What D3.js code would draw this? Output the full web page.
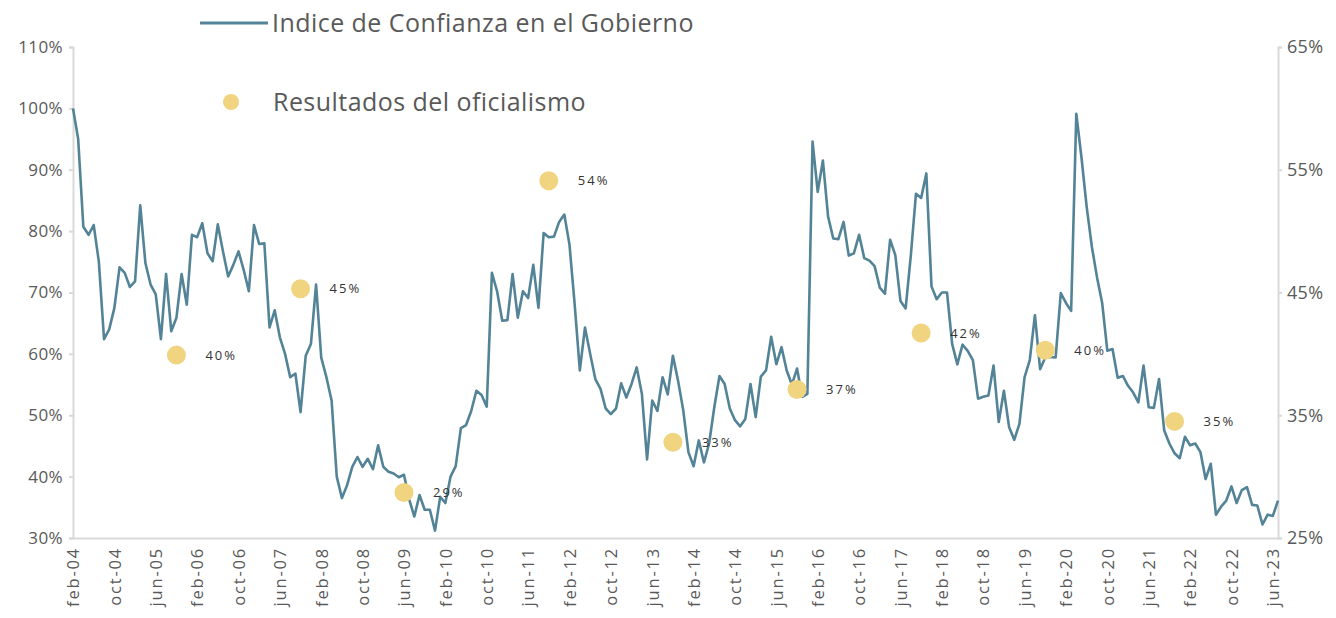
<!DOCTYPE html>
<html>
<head>
<meta charset="utf-8">
<script src="https://cdn.jsdelivr.net/npm/d3@7"></script>
<style>
  html, body { margin: 0; padding: 0; background: #fff; }
  #chart { width: 1336px; height: 618px; }
  text { font-family: 'Open Sans', Lato, sans-serif; }
</style>
</head>
<body>
<div id="chart"></div>
<script>
// Indice de Confianza en el Gobierno, feb-04 = 100% (mensual, feb-04 .. jul-23)
const icg = [
  100, 95, 80.7, 79.4, 81, 75, 62.4, 64, 67.5, 74.1,
  73.2, 70.9, 71.8, 84.2, 74.8, 71.3, 69.7, 62.4, 73, 63.7,
  65.9, 73, 68, 79.4, 79, 81.3, 76.4, 75.1, 81.1, 76.7,
  72.6, 74.5, 76.7, 73.7, 70.2, 81, 77.9, 78, 64.3, 67.1,
  62.7, 60, 56.2, 56.8, 50.5, 59.7, 61.6, 71.3, 59.4, 56.2,
  52.4, 40, 36.5, 38.6, 41.6, 43.2, 41.6, 42.9, 41.2, 45.1,
  41.6, 40.8, 40.5, 39.9, 40.3, 36.3, 33.5, 37, 34.6, 34.6,
  31.2, 36.7, 35.7, 40, 41.7, 47.9, 48.4, 50.7, 54, 53.3,
  51.4, 73.2, 70.2, 65.4, 65.5, 73, 65.9, 70.2, 69.1, 74.5,
  67.5, 79.7, 79, 79.1, 81.5, 82.7, 77.8, 68.1, 57.3, 64.3,
  60, 55.9, 54.3, 51.1, 50.2, 51.1, 55.2, 52.9, 55.1, 57.8,
  53.5, 42.8, 52.4, 50.7, 56.2, 53.4, 59.7, 55.6, 50.8, 44,
  41.7, 45.9, 42.3, 45.4, 51.3, 56.4, 55.1, 51.1, 49.2, 48.2,
  49.4, 55.1, 49.7, 56.3, 57.3, 62.8, 58.3, 61.1, 57.3, 55,
  57.6, 53, 53.5, 94.6, 86.4, 91.5, 82.4, 78.8, 78.7, 81.5,
  76, 76.4, 79.4, 75.6, 75.2, 74.3, 70.8, 69.8, 78.6, 76.1,
  68.6, 67.4, 76, 86.1, 85.4, 89.4, 71, 68.9, 70, 70,
  61.6, 58.3, 61.5, 60.5, 59, 52.7, 53, 53.2, 58.1, 48.9,
  54, 48.1, 46, 48.6, 56.2, 59, 66.3, 57.5, 59.4, 59.5,
  59.4, 69.9, 68.3, 67, 99.1, 92, 84, 77.5, 72.5, 68.3,
  60.5, 60.8, 56.1, 56.4, 54.8, 53.7, 52.1, 58.1, 51.3, 51.2,
  55.9, 47.5, 45.4, 43.8, 43, 46.5, 45.1, 45.4, 44, 39.6,
  42.1, 33.8, 35.1, 36.1, 38.4, 35.7, 37.8, 38.3, 35.4, 35.3,
  32.2, 33.8, 33.6, 36.1
]

// Resultados del oficialismo (eje derecho)
const electionMonths = ['2005-10', '2007-10', '2009-06', '2011-10', '2013-10', '2015-10', '2017-10', '2019-10', '2021-11']
const electionResults = [39.9, 45.3, 28.7, 54.1, 32.8, 37.1, 41.7, 40.3, 34.5]
const electionLabels = ['40%', '45%', '29%', '54%', '33%', '37%', '42%', '40%', '35%']

const tickLabels = [
  'feb-04', 'oct-04', 'jun-05', 'feb-06', 'oct-06', 'jun-07', 'feb-08', 'oct-08', 'jun-09', 'feb-10',
  'oct-10', 'jun-11', 'feb-12', 'oct-12', 'jun-13', 'feb-14', 'oct-14', 'jun-15', 'feb-16', 'oct-16',
  'jun-17', 'feb-18', 'oct-18', 'jun-19', 'feb-20', 'oct-20', 'jun-21', 'feb-22', 'oct-22', 'jun-23'
]
const leftTicks = [30, 40, 50, 60, 70, 80, 90, 100, 110]
const rightTicks = [25, 35, 45, 55, 65]

const W = 1336, H = 618
const margin = { top: 47, right: 58, bottom: 80, left: 73 }
const lineColor = '#538396'
const dotColor = '#f0d480'
const axisColor = '#d9d9d9'
const textColor = '#595959'

const fmtKey = d3.timeFormat('%Y-%m')
const months = d3.timeMonth.range(new Date(2004, 1, 1), new Date(2023, 7, 1)).map(fmtKey)

const svg = d3.select('#chart').append('svg').attr('width', W).attr('height', H)

const x = d3.scalePoint().domain(months).range([margin.left, W - margin.right])
const yL = d3.scaleLinear().domain([30, 110]).range([H - margin.bottom, margin.top])
const yR = d3.scaleLinear().domain([25, 65]).range([H - margin.bottom, margin.top])

// ejes
const axisL = svg.append('g')
  .attr('transform', `translate(${margin.left},0)`)
  .call(d3.axisLeft(yL).tickValues(leftTicks).tickSize(4).tickPadding(6).tickFormat((d) => d + '%'))

const axisR = svg.append('g')
  .attr('transform', `translate(${W - margin.right},0)`)
  .call(d3.axisRight(yR).tickValues(rightTicks).tickSize(4).tickPadding(5).tickFormat((d) => d + '%'))

const axisB = svg.append('g')
  .attr('transform', `translate(0,${H - margin.bottom})`)
  .call(d3.axisBottom(x)
    .tickValues(months.filter((d, i) => i % 8 === 0))
    .tickSize(0)
    .tickFormat((d, i) => tickLabels[i]))

for (const g of [axisL, axisR, axisB]) {
  g.select('.domain').attr('stroke', axisColor).attr('stroke-width', 2)
  g.selectAll('.tick line').attr('stroke', axisColor).attr('stroke-width', 2)
  g.selectAll('text').attr('fill', textColor).style('font-family', "'Open Sans', sans-serif")
}

axisB.selectAll('text')
  .attr('transform', 'rotate(-90)')
  .attr('text-anchor', 'end')
  .attr('x', -9)
  .attr('y', 0)
  .attr('dy', '0.35em')
  .attr('font-size', 16.5)
  .attr('letter-spacing', 1.8)
axisL.selectAll('text').attr('font-size', 17).attr('letter-spacing', 0.4)
axisR.selectAll('text').attr('font-size', 18).attr('letter-spacing', 0.3)

// serie
const line = d3.line()
  .x((d, i) => x(months[i]))
  .y((d) => yL(d))

svg.append('path')
  .datum(icg)
  .attr('fill', 'none')
  .attr('stroke', lineColor)
  .attr('stroke-width', 2.6)
  .attr('stroke-linejoin', 'round')
  .attr('d', line)

// resultados electorales
const elections = electionMonths.map((m, i) => ({ m, v: electionResults[i], label: electionLabels[i] }))

svg.append('g')
  .selectAll('circle')
  .data(elections)
  .join('circle')
  .attr('cx', (d) => x(d.m))
  .attr('cy', (d) => yR(d.v))
  .attr('r', 9.5)
  .attr('fill', dotColor)

svg.append('g')
  .selectAll('text')
  .data(elections)
  .join('text')
  .attr('x', (d) => x(d.m) + 29)
  .attr('y', (d) => yR(d.v))
  .attr('dy', '0.35em')
  .attr('font-size', 13)
  .attr('letter-spacing', 2)
  .attr('fill', '#333')
  .text((d) => d.label)

// leyenda
const legend = svg.append('g')
legend.append('line')
  .attr('x1', 200).attr('x2', 268).attr('y1', 23).attr('y2', 23)
  .attr('stroke', lineColor).attr('stroke-width', 3)
legend.append('text')
  .attr('x', 272).attr('y', 23).attr('dy', '0.35em')
  .attr('font-size', 25).attr('letter-spacing', 0.45).attr('fill', textColor)
  .text('Indice de Confianza en el Gobierno')
legend.append('circle')
  .attr('cx', 231).attr('cy', 102).attr('r', 8)
  .attr('fill', dotColor)
legend.append('text')
  .attr('x', 273).attr('y', 102).attr('dy', '0.35em')
  .attr('font-size', 25).attr('letter-spacing', 0.45).attr('fill', textColor)
  .text('Resultados del oficialismo')
</script>
</body>
</html>
